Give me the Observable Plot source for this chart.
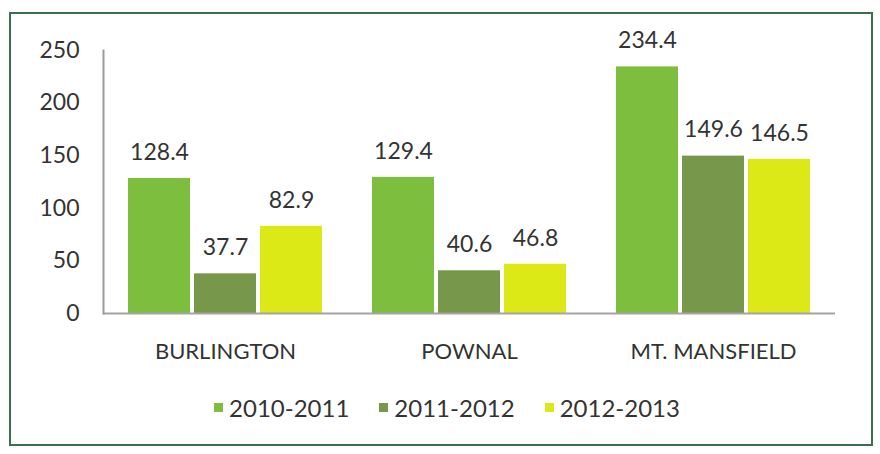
<!DOCTYPE html>
<html>
<head>
<meta charset="utf-8">
<script src="https://cdn.jsdelivr.net/npm/d3@7"></script>
<script src="https://cdn.jsdelivr.net/npm/@observablehq/plot@0.6"></script>
<style>
  html, body { margin: 0; padding: 0; background: #fff; }
  #wrap { position: relative; width: 880px; height: 454px; overflow: hidden; font-family: Lato, "Open Sans", sans-serif; color: #333; }
  #border { position: absolute; left: 9px; top: 12px; width: 860px; height: 430px; border: 2px solid #3d6e52; box-sizing: content-box; }
  #chart { position: absolute; left: 0; top: 0; }
  #legend { position: absolute; left: 0; width: 880px; top: 393px; display: flex; justify-content: center; align-items: center; gap: 30px; font-size: 24px; padding-left: 14px; box-sizing: border-box; }
  .item { display: flex; align-items: center; gap: 6px; }
  .sw { width: 9px; height: 9px; display: inline-block; }
  #chart svg [aria-label^="fx-axis"] text { font-size: 22px; }
</style>
</head>
<body>
<div id="wrap">
  <div id="border"></div>
  <div id="chart"></div>
  <div id="legend"></div>
</div>
<script>
const sites = ["BURLINGTON", "POWNAL", "MT. MANSFIELD"];
const years = ["2010-2011", "2011-2012", "2012-2013"];
const v2010_2011 = [128.4, 129.4, 234.4];
const v2011_2012 = [37.7, 40.6, 149.6];
const v2012_2013 = [82.9, 46.8, 146.5];
const colors = ["#7dbe3e", "#77974a", "#dce917"];
const yTicks = [0, 50, 100, 150, 200, 250];

const series = [v2010_2011, v2011_2012, v2012_2013];
const data = [];
sites.forEach((s, i) => years.forEach((y, j) => data.push({site: s, year: y, value: series[j][i]})));

const chart = Plot.plot({
  width: 880,
  height: 380,
  marginLeft: 103,
  marginRight: 45,
  marginTop: 50,
  marginBottom: 67,
  style: {fontFamily: "Lato, 'Open Sans', sans-serif", fontSize: "23px", color: "#333", background: "transparent"},
  fx: {domain: sites, paddingInner: 0, paddingOuter: 0, label: null, tickSize: 0, tickPadding: 30, axis: "bottom"},
  x: {domain: years, paddingInner: 0.06, paddingOuter: 0.378, axis: null},
  y: {domain: [0, 250], ticks: yTicks, tickSize: 0, tickPadding: 24, label: null},
  color: {domain: years, range: colors},
  marks: [
    Plot.barY(data, {fx: "site", x: "year", y: "value", fill: "year"}),
    Plot.text(data, {fx: "site", x: "year", y: "value", text: d => d.value.toFixed(1), dy: -26, fontSize: 23, fill: "#333"}),
    Plot.ruleY([0], {stroke: "#a3a3a3", strokeWidth: 2}),
    Plot.frame({anchor: "left", facet: "super", stroke: "#9a9a9a", strokeWidth: 2})
  ]
});
document.getElementById("chart").appendChild(chart);

const legend = document.getElementById("legend");
years.forEach((y, i) => {
  const it = document.createElement("div");
  it.className = "item";
  const sw = document.createElement("span");
  sw.className = "sw";
  sw.style.background = colors[i];
  const t = document.createElement("span");
  t.textContent = y;
  it.appendChild(sw);
  it.appendChild(t);
  legend.appendChild(it);
});
</script>
</body>
</html>
